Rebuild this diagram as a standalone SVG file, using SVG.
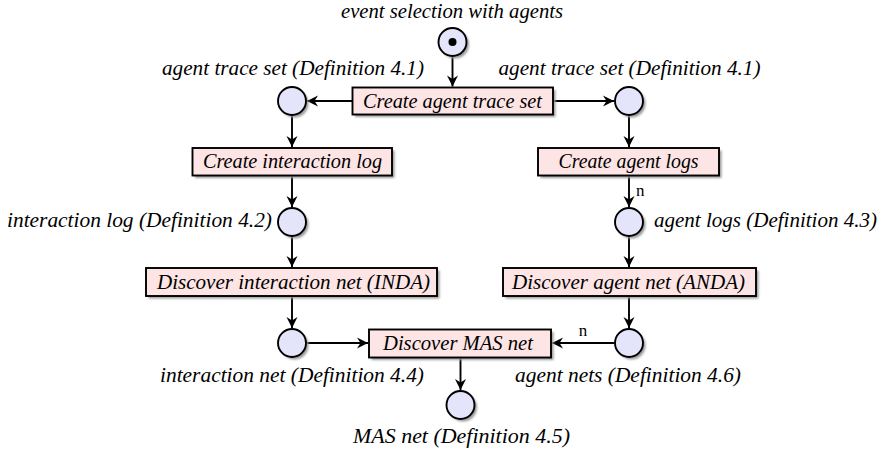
<svg xmlns="http://www.w3.org/2000/svg" width="883" height="452" viewBox="0 0 883 452">
<style>
.place{fill:#e4e4fa;stroke:#000;stroke-width:1.9}
.trans{fill:#fde5e5;stroke:#000;stroke-width:1.9}
.sh{fill:#9a9a9a;filter:url(#blur)}
.edge{fill:none;stroke:#000;stroke-width:1.9;marker-end:url(#arr)}
.t{font-family:'Liberation Serif','Times New Roman',serif;font-style:italic;font-size:20px;fill:#000}
.c{text-anchor:middle}
.up{font-family:'Liberation Serif','Times New Roman',serif;font-size:17px;fill:#000}
</style>
<defs>
<filter id="blur" x="-20%" y="-20%" width="140%" height="140%"><feGaussianBlur stdDeviation="0.9"/></filter>
<marker id="arr" viewBox="-12 -6 12 12" refX="0" refY="0" markerWidth="12" markerHeight="12" markerUnits="userSpaceOnUse" orient="auto">
<path d="M0,0 L-11,-5.5 L-7.5,0 L-11,5.5 Z" fill="#000"/>
</marker>
</defs>
<rect width="883" height="452" fill="#fff"/>

<g id="connectors">
<line class="edge" x1="452.5" y1="56.5" x2="452.5" y2="86.5"/>
<line class="edge" x1="352.5" y1="101" x2="307" y2="101"/>
<line class="edge" x1="553" y1="101" x2="614" y2="101"/>
<line class="edge" x1="292" y1="115" x2="292" y2="147"/>
<line class="edge" x1="292" y1="175.5" x2="292" y2="207"/>
<line class="edge" x1="292" y1="236" x2="292" y2="267"/>
<line class="edge" x1="292" y1="296" x2="292" y2="328"/>
<line class="edge" x1="306.5" y1="343" x2="368" y2="343"/>
<line class="edge" x1="629" y1="115" x2="629" y2="147"/>
<line class="edge" x1="629" y1="175.5" x2="629" y2="207"/>
<line class="edge" x1="629" y1="236" x2="629" y2="267"/>
<line class="edge" x1="629" y1="296" x2="629" y2="328"/>
<line class="edge" x1="614.5" y1="343" x2="552" y2="343"/>
<line class="edge" x1="460.5" y1="357.5" x2="460.5" y2="390"/>
<text class="up" x="636" y="196">n</text>
<text class="up c" x="583" y="336">n</text>
</g>

<g id="p-start">
<circle class="sh" cx="455" cy="44.5" r="14"/>
<circle class="place" cx="452.5" cy="42" r="14"/>
<circle cx="452.5" cy="42" r="4" fill="#000"/>
<text class="t c" x="452" y="18" textLength="222" lengthAdjust="spacingAndGlyphs">event selection with agents</text>
</g>

<g id="t-create-trace">
<rect class="sh" x="355" y="90" width="200.5" height="27"/>
<rect class="trans" x="352.5" y="87.5" width="200.5" height="27"/>
<text class="t c" x="452.5" y="107.5" textLength="179" lengthAdjust="spacingAndGlyphs">Create agent trace set</text>
</g>

<g id="p-trace-left">
<circle class="sh" cx="294.5" cy="103.5" r="14"/>
<circle class="place" cx="292" cy="101" r="14"/>
<text class="t c" x="293" y="75" textLength="262" lengthAdjust="spacingAndGlyphs">agent trace set (Definition 4.1)</text>
</g>

<g id="p-trace-right">
<circle class="sh" cx="631.5" cy="103.5" r="14"/>
<circle class="place" cx="629" cy="101" r="14"/>
<text class="t c" x="629.5" y="75" textLength="262" lengthAdjust="spacingAndGlyphs">agent trace set (Definition 4.1)</text>
</g>

<g id="t-create-interaction-log">
<rect class="sh" x="195" y="150.5" width="199.5" height="27.5"/>
<rect class="trans" x="192.5" y="148" width="199.5" height="27.5"/>
<text class="t c" x="292.5" y="168" textLength="179" lengthAdjust="spacingAndGlyphs">Create interaction log</text>
</g>

<g id="p-interaction-log">
<circle class="sh" cx="294.5" cy="224.5" r="14"/>
<circle class="place" cx="292" cy="222" r="14"/>
<text class="t" x="7" y="226.5" textLength="265" lengthAdjust="spacingAndGlyphs">interaction log (Definition 4.2)</text>
</g>

<g id="t-discover-interaction">
<rect class="sh" x="148.5" y="270.5" width="291" height="28"/>
<rect class="trans" x="146" y="268" width="291" height="28"/>
<text class="t c" x="293.5" y="288.5" textLength="273" lengthAdjust="spacingAndGlyphs">Discover interaction net (INDA)</text>
</g>

<g id="p-interaction-net">
<circle class="sh" cx="294.5" cy="345.5" r="14"/>
<circle class="place" cx="292" cy="343" r="14"/>
<text class="t c" x="292" y="382" textLength="264" lengthAdjust="spacingAndGlyphs">interaction net (Definition 4.4)</text>
</g>

<g id="t-create-agent-logs">
<rect class="sh" x="540.5" y="150.5" width="181" height="27.5"/>
<rect class="trans" x="538" y="148" width="181" height="27.5"/>
<text class="t c" x="628.5" y="168" textLength="140" lengthAdjust="spacingAndGlyphs">Create agent logs</text>
</g>

<g id="p-agent-logs">
<circle class="sh" cx="631.5" cy="224.5" r="14"/>
<circle class="place" cx="629" cy="222" r="14"/>
<text class="t" x="654" y="226.5" textLength="223" lengthAdjust="spacingAndGlyphs">agent logs (Definition 4.3)</text>
</g>

<g id="t-discover-agent">
<rect class="sh" x="505.5" y="270.5" width="253" height="28"/>
<rect class="trans" x="503" y="268" width="253" height="28"/>
<text class="t c" x="628.5" y="288.5" textLength="233" lengthAdjust="spacingAndGlyphs">Discover agent net (ANDA)</text>
</g>

<g id="p-agent-nets">
<circle class="sh" cx="631.5" cy="345.5" r="14"/>
<circle class="place" cx="629" cy="343" r="14"/>
<text class="t c" x="628" y="382" textLength="226" lengthAdjust="spacingAndGlyphs">agent nets (Definition 4.6)</text>
</g>

<g id="t-discover-mas">
<rect class="sh" x="371.5" y="332" width="182" height="28"/>
<rect class="trans" x="369" y="329.5" width="182" height="28"/>
<text class="t c" x="458" y="350" textLength="150" lengthAdjust="spacingAndGlyphs">Discover MAS net</text>
</g>

<g id="p-mas-net">
<circle class="sh" cx="463" cy="407.5" r="14"/>
<circle class="place" cx="460.5" cy="405" r="14"/>
<text class="t c" x="461.5" y="443" textLength="217" lengthAdjust="spacingAndGlyphs">MAS net (Definition 4.5)</text>
</g>
</svg>
